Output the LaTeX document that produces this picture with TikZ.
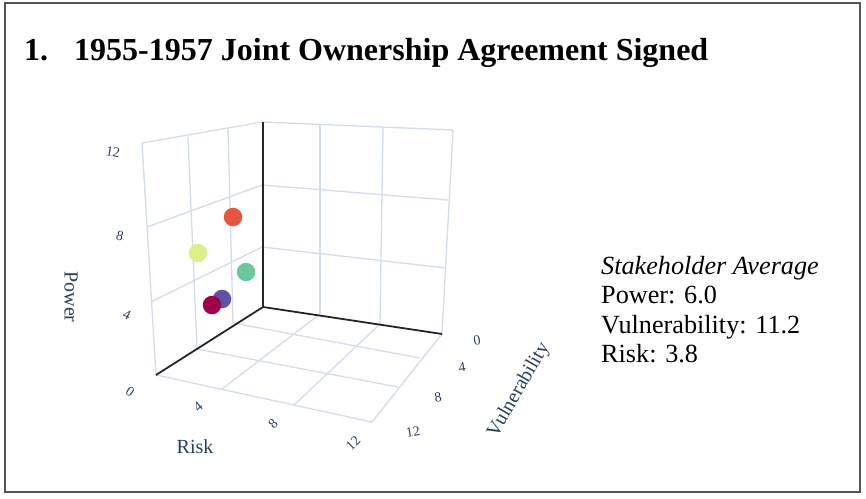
\documentclass[tikz,border=0pt]{standalone}
\usepackage{fontspec}
\setmainfont{Liberation Serif}
\definecolor{gridc}{HTML}{D3DCEB}
\definecolor{axisblue}{HTML}{2A3F5F}
\definecolor{mred}{HTML}{E8553F}
\definecolor{myel}{HTML}{DCEE8A}
\definecolor{mgreen}{HTML}{6CC89C}
\definecolor{mpurple}{HTML}{6150A8}
\definecolor{mmaroon}{HTML}{A0024A}
\definecolor{framec}{HTML}{555555}
\tikzset{
  gridline/.style={draw=gridc, line width=1.3pt},
  axisline/.style={draw=black!85, line width=1.8pt},
  ticklab/.style={text=axisblue, font=\fontsize{14}{14}\selectfont, inner sep=0pt},
  axtitle/.style={text=axisblue, font=\fontsize{20}{20}\selectfont, inner sep=0pt},
  marker/.style={circle, minimum size=18.5pt, inner sep=0pt},
  infotext/.style={font=\fontsize{26.2}{29.5}\selectfont, align=left, inner sep=0pt, anchor=north west},
}
\begin{document}
\begin{tikzpicture}[x=1pt,y=-1pt]
\useasboundingbox (0,0) rectangle (866,498);
\fill[white] (0,0) rectangle (866,498);
\draw[framec, line width=1.6pt] (5,3) rectangle (860,492);

% title
\node[anchor=base west, inner sep=0pt, font=\fontsize{32}{32}\selectfont\bfseries] (num) at (24,60) {1.};
\node[anchor=base west, inner sep=0pt, font=\fontsize{32}{32}\selectfont\bfseries] (title) at (74,60) {1955-1957 Joint Ownership Agreement Signed};

% left wall (Risk = 0)
\draw[gridline] (142,143) -- (262,122);
\draw[gridline] (142,143) -- (156,375);
\draw[gridline] (147,227) -- (262,185);
\draw[gridline] (151,302) -- (262,247);
\draw[gridline] (228,128) -- (233,323);
\draw[gridline] (188,137) -- (197,349);
% right wall (Vulnerability = 0)
\draw[gridline] (262,122) -- (453,130);
\draw[gridline] (453,130) -- (442,334);
\draw[gridline] (262,185) -- (448,200);
\draw[gridline] (262,247) -- (446,268);
\draw[gridline] (320,124) -- (320,314);
\draw[gridline] (383,127) -- (380,324);
% floor
\draw[gridline] (156,375) -- (372,422);
\draw[gridline] (372,422) -- (442,334);
\draw[gridline] (233,323) -- (420,358);
\draw[gridline] (197,349) -- (398,387);
\draw[gridline] (320,314) -- (222,389);
\draw[gridline] (380,324) -- (293,406);
% axis lines
\coordinate (o) at (263,307);
\coordinate (ptop) at (263,122);
\coordinate (rend) at (442,334);
\coordinate (vend) at (156,375);
\draw[axisline] (ptop) -- (o);
\draw[axisline] (o) -- (vend);
\draw[axisline] (o) -- (rend);

% markers
\node[marker, fill=mpurple] (s1) at (222,299) {};
\node[marker, fill=mmaroon] (s2) at (212,305) {};
\node[marker, fill=mred] (s3) at (233,217) {};
\node[marker, fill=myel] (s4) at (198,253) {};
\node[marker, fill=mgreen] (s5) at (246,272) {};

% power ticks
\node[ticklab, rotate=-10] (p12) at (113,152) {12};
\node[ticklab, rotate=-15] (p8) at (120,236) {8};
\node[ticklab, rotate=-25] (p4) at (127,315) {4};
\node[ticklab, rotate=-35] (p0) at (130,392) {0};
% risk ticks
\node[ticklab, rotate=40] (r4) at (198,407) {4};
\node[ticklab, rotate=45] (r8) at (273,424) {8};
\node[ticklab, rotate=45] (r12) at (353,443) {12};
% vulnerability ticks
\node[ticklab, rotate=10] (v0) at (477,340) {0};
\node[ticklab, rotate=10] (v4) at (462,367) {4};
\node[ticklab, rotate=10] (v8) at (438,397) {8};
\node[ticklab, rotate=10] (v12) at (413,432) {12};

% axis titles
\node[axtitle, rotate=-90] (tpow) at (71,297) {Power};
\node[axtitle] (trisk) at (195,447) {Risk};
\node[axtitle, rotate=60] (tvul) at (519,390) {Vulnerability};

% info
\node[infotext] (info) at (601,256) {\textit{Stakeholder Average}\\Power: 6.0\\Vulnerability: 11.2\\Risk: 3.8};
\end{tikzpicture}
\end{document}
